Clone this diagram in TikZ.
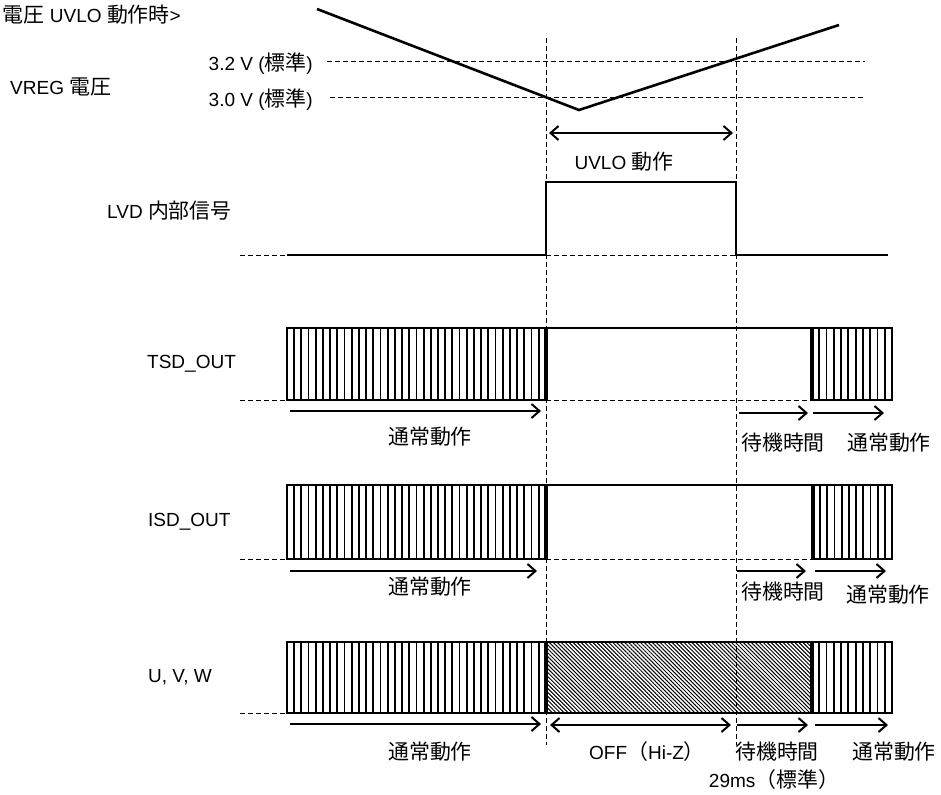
\documentclass[tikz,border=0pt]{standalone}
\usepackage{fontspec}
\setmainfont{Liberation Sans}
\newfontfamily\jpfont[Scale=1.1]{Noto Sans CJK JP}
\newcommand{\jp}[1]{{\jpfont #1}}
\usetikzlibrary{arrows.meta,patterns.meta}

\tikzset{
  txt/.style={font=\fontsize{19}{22}\selectfont, inner sep=0pt},
  signal/.style={line width=2.6pt, line join=miter},
  bord/.style={line width=3.4pt},
  guide/.style={line width=0.9pt, dash pattern=on 5pt off 3pt},
  raie/.style={line width=1.8pt},
  fleche/.style={line width=2pt, -{Straight Barb[length=8pt,width=14pt,line width=2pt]}},
  doublefleche/.style={line width=2pt, {Straight Barb[length=8pt,width=14pt,line width=2pt]}-{Straight Barb[length=8pt,width=14pt,line width=2pt]}}
}

\begin{document}
\begin{tikzpicture}[x=1pt, y=-1pt]
  \useasboundingbox (0,0) rectangle (941,794);

  % Titres
  \node[txt, anchor=east] (titre) at (181,15) {\jp{電圧} UVLO \jp{動作時}>};
  \node[txt, anchor=west] (vreg) at (10,87) {VREG \jp{電圧}};
  \node[txt, anchor=east] (seuilH) at (313,64) {3.2 V (\jp{標準})};
  \node[txt, anchor=east] (seuilB) at (313,100) {3.0 V (\jp{標準})};

  % Seuils et tension VREG
  \draw[guide] (seuilH.east) ++(14,-3) -- (865,61);
  \draw[guide] (seuilB.east) ++(17,-3) -- (865,97);
  \coordinate (vdeb) at (317,9);
  \coordinate (vmin) at (579,110);
  \coordinate (vfin) at (839,25);
  \draw[signal] (vdeb) -- (vmin) -- (vfin);

  % UVLO
  \coordinate (uvA) at (549,133);
  \coordinate (uvB) at (733,133);
  \draw[doublefleche] (uvA) -- (uvB);
  \node[txt] (uvlo) at (624,162) {UVLO \jp{動作}};

  % Signal LVD
  \node[txt, anchor=west] (lvd) at (107,211) {LVD \jp{内部信号}};
  \draw[guide] (240,255) -- (287,255);
  \draw[guide] (546,255) -- (736,255);
  \draw[signal] (287,255) -- (546,255) -- (546,182) -- (736,182) -- (736,255) -- (888,255);

  % TSD_OUT
  \node[txt, anchor=west] (tsd) at (147,364) {TSD\_OUT};
  \draw[guide] (240,400) -- (287,400);
  \draw[guide] (546,400) -- (812,400);
  \foreach \i in {1,...,35} \draw[raie] ({287+\i*7.19},328) -- ++(0,72);
  \foreach \i in {1,...,10} \draw[raie] ({812+\i*7.27},328) -- ++(0,72);
  \draw[line width=2.2pt] (287,328) rectangle (546,400);
  \draw[line width=2.2pt] (546,328) -- (812,328);
  \draw[line width=2.2pt] (812,328) rectangle (892,400);
  \draw[bord] (546,327) -- (546,401);
  \draw[bord] (812,327) -- (812,401);
  \coordinate (tsdA) at (290,411);
  \coordinate (tsdB) at (541,411);
  \coordinate (tsdC) at (739,413);
  \coordinate (tsdD) at (808,413);
  \coordinate (tsdE) at (813,413);
  \coordinate (tsdF) at (884,413);
  \draw[fleche] (tsdA) -- (tsdB);
  \draw[fleche] (tsdC) -- (tsdD);
  \draw[fleche] (tsdE) -- (tsdF);
  \node[txt] (tsdN1) at (430,437) {\jp{通常動作}};
  \node[txt] (tsdW) at (783,443) {\jp{待機時間}};
  \node[txt] (tsdN2) at (889,443) {\jp{通常動作}};

  % ISD_OUT
  \node[txt, anchor=west] (isd) at (148,522) {ISD\_OUT};
  \draw[guide] (240,559) -- (287,559);
  \draw[guide] (546,559) -- (813,559);
  \foreach \i in {1,...,35} \draw[raie] ({287+\i*7.19},485) -- ++(0,74);
  \foreach \i in {1,...,10} \draw[raie] ({813+\i*7.18},485) -- ++(0,74);
  \draw[line width=2.2pt] (287,485) rectangle (546,559);
  \draw[line width=2.2pt] (546,485) -- (813,485);
  \draw[line width=2.2pt] (813,485) rectangle (892,559);
  \draw[bord] (546,484) -- (546,560);
  \draw[bord] (813,484) -- (813,560);
  \coordinate (isdA) at (290,571);
  \coordinate (isdB) at (537,571);
  \coordinate (isdC) at (737,571);
  \coordinate (isdD) at (806,571);
  \coordinate (isdE) at (815,571);
  \coordinate (isdF) at (886,571);
  \draw[fleche] (isdA) -- (isdB);
  \draw[fleche] (isdC) -- (isdD);
  \draw[fleche] (isdE) -- (isdF);
  \node[txt] (isdN1) at (430,587) {\jp{通常動作}};
  \node[txt] (isdW) at (783,592) {\jp{待機時間}};
  \node[txt] (isdN2) at (888,595) {\jp{通常動作}};

  % U, V, W
  \node[txt, anchor=west] (uvw) at (148,677) {U, V, W};
  \draw[guide] (240,713) -- (287,713);
  \fill[pattern={Lines[angle=-45,distance=2.8pt,line width=1pt]}] (546,642) rectangle (812,713);
  \foreach \i in {1,...,35} \draw[raie] ({287+\i*7.19},642) -- ++(0,71);
  \foreach \i in {1,...,10} \draw[raie] ({812+\i*7.27},642) -- ++(0,71);
  \draw[line width=2.6pt] (287,642) rectangle (892,713);
  \draw[bord] (546,641) -- (546,714);
  \draw[bord] (812,641) -- (812,714);
  \coordinate (uvwA) at (290,724);
  \coordinate (uvwB) at (541,724);
  \coordinate (uvwC) at (550,725);
  \coordinate (uvwD) at (731,725);
  \coordinate (uvwE) at (737,725);
  \coordinate (uvwF) at (808,725);
  \coordinate (uvwG) at (815,725);
  \coordinate (uvwH) at (888,725);
  \draw[fleche] (uvwA) -- (uvwB);
  \draw[doublefleche] (uvwC) -- (uvwD);
  \draw[fleche] (uvwE) -- (uvwF);
  \draw[fleche] (uvwG) -- (uvwH);
  \node[txt] (uvwN1) at (430,752) {\jp{通常動作}};
  \node[txt] (off) at (647,752) {OFF\jp{（}Hi-Z\jp{）}};
  \node[txt] (uvwW) at (777,752) {\jp{待機時間}};
  \node[txt] (duree) at (774,780) {29ms\jp{（標準）}};
  \node[txt] (uvwN2) at (894,752) {\jp{通常動作}};

  % Reperes verticaux
  \draw[guide] (546,38) -- (546,745);
  \draw[guide] (736,38) -- (736,745);
\end{tikzpicture}
\end{document}
